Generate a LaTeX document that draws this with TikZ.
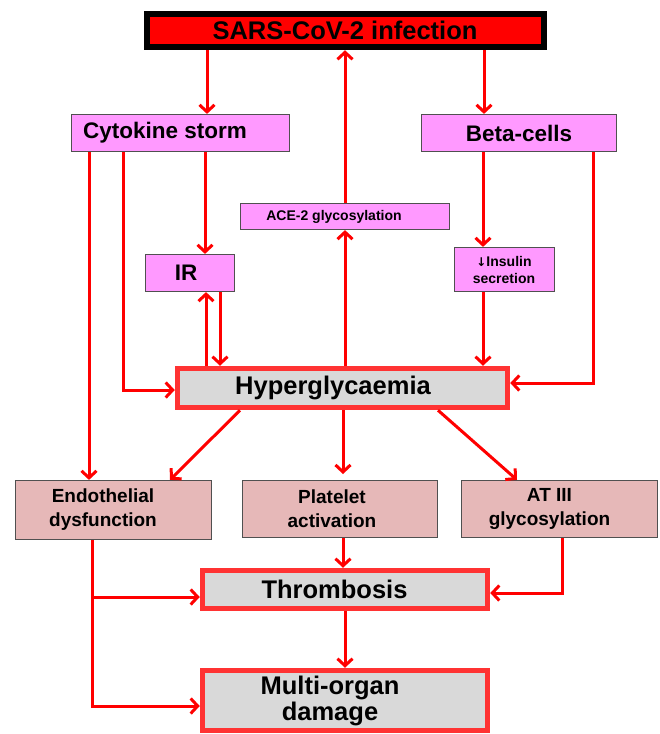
\documentclass[tikz,border=0pt]{standalone}
\usepackage{fontspec}
\setmainfont{Liberation Sans}
\newfontfamily\symf{DejaVu Sans}
\usetikzlibrary{arrows.meta}
\definecolor{pinkf}{RGB}{255,153,255}
\definecolor{rosef}{RGB}{230,184,184}
\definecolor{grayf}{RGB}{217,217,217}
\definecolor{hred}{RGB}{255,51,51}
\definecolor{bordc}{RGB}{80,80,80}
\begin{document}
\begin{tikzpicture}[x=1pt,y=-1pt,
  box/.style={draw=bordc, line width=1.2pt, inner sep=0pt},
  pbox/.style={box, fill=pinkf},
  rbox/.style={box, fill=rosef},
  hbox/.style={draw=hred, line width=5.5pt, fill=grayf, inner sep=0pt},
  txt/.style={inner sep=0pt, align=center},
  fbig/.style={font=\bfseries\fontsize{25.5}{26}\selectfont},
  fmid/.style={font=\bfseries\fontsize{22.5}{26}\selectfont},
  fbot/.style={font=\bfseries\fontsize{19}{24}\selectfont},
  fsmall/.style={font=\bfseries\fontsize{14}{17}\selectfont},
  arr/.style={draw=red, line width=3pt, -{Straight Barb[length=7pt,width=15pt]}},
  ln/.style={draw=red, line width=3pt}
]
\useasboundingbox (0,0) rectangle (660,734);

% boxes
\node[draw=black, line width=6.5pt, fill=red, inner sep=0pt, minimum width=397pt, minimum height=33pt] (sars) at (345.5,30.5) {};
\node[txt, fbig] (sarst) at (345,30) {SARS-CoV-2 infection};

\node[pbox, minimum width=218pt, minimum height=37pt] (cyto) at (180.5,133) {};
\node[txt, fmid, anchor=west] (cytot) at (83,133) {Cytokine storm};

\node[pbox, minimum width=195pt, minimum height=37pt] (beta) at (519,133) {};
\node[txt, fmid] (betat) at (519,133) {Beta-cells};

\node[pbox, minimum width=209pt, minimum height=26pt] (ace) at (345,216.5) {};
\node[txt, fsmall] (acet) at (334,216.5) {ACE-2 glycosylation};

\node[pbox, minimum width=89pt, minimum height=37pt] (ir) at (190,273) {};
\node[txt, fmid] (irt) at (186,273) {IR};

\node[pbox, minimum width=100pt, minimum height=44pt] (ins) at (504.5,269.5) {};
\node[txt, fsmall] (inst) at (504,270) {{\symf\fontsize{12}{12}\selectfont ↓}Insulin\\secretion};

\node[hbox, minimum width=330pt, minimum height=39pt] (hyp) at (342.5,388) {};
\node[txt, fbig] (hypt) at (333,388) {Hyperglycaemia};

\node[rbox, minimum width=196pt, minimum height=59pt] (endo) at (113.5,510) {};
\node[txt, fbot] (endot) at (103,510) {Endothelial\\dysfunction};

\node[rbox, minimum width=195pt, minimum height=57pt] (plat) at (340,509) {};
\node[txt, fbot] (platt) at (332,509) {Platelet\\activation};

\node[rbox, minimum width=196pt, minimum height=57pt] (at3) at (559.5,509) {};
\node[txt, fbot] (at3t) at (549.5,509) {AT III\\glycosylation};

\node[hbox, minimum width=285pt, minimum height=38pt] (thr) at (345,589.5) {};
\node[txt, fbig] (thrt) at (334.5,589.5) {Thrombosis};

\node[hbox, minimum width=285pt, minimum height=60pt] (multi) at (345,700.5) {};
\node[txt, fbig] (multit) at (330,701) {Multi-organ\\damage};

% guide coordinates
\coordinate (g207) at (207,0);
\coordinate (g484) at (484,0);
\coordinate (g345) at (345,0);
\coordinate (g205) at (205,0);
\coordinate (g123) at (123,0);
\coordinate (g89) at (89,0);
\coordinate (g483) at (483,0);
\coordinate (g593) at (593,0);
\coordinate (g206) at (206,0);
\coordinate (g220) at (220,0);
\coordinate (g343) at (343,0);
\coordinate (g562) at (562,0);
\coordinate (g92) at (92,0);
\coordinate (y390) at (0,390);
\coordinate (y383) at (0,383);
\coordinate (y593) at (0,593);
\coordinate (y597) at (0,597);
\coordinate (y706) at (0,706);
\coordinate (platgap) at (343,474);

% connectors
\draw[arr] (sars.south -| g207) -- (cyto.north -| g207);
\draw[arr] (sars.south -| g484) -- (beta.north -| g484);
\draw[arr] (ace.north -| g345) -- (sars.south -| g345);
\draw[arr] (cyto.south -| g205) -- (ir.north -| g205);
\draw[arr] (cyto.south -| g123) |- (hyp.west |- y390);
\draw[arr] (cyto.south -| g89) -- (endo.north -| g89);
\draw[arr] (beta.south -| g483) -- (ins.north -| g483);
\draw[arr] (beta.south -| g593) |- (hyp.east |- y383);
\draw[arr] (ins.south -| g483) -- (hyp.north -| g483);
\draw[arr] (hyp.north -| g206) -- (ir.south -| g206);
\draw[arr] (ir.south -| g220) -- (hyp.north -| g220);
\draw[arr] (hyp.north -| g345) -- (ace.south -| g345);
\draw[arr] (hyp.south -| 240,0) -- (endo.north -| 170,0);
\draw[arr] (hyp.south -| g343) -- (platgap);
\draw[arr] (hyp.south -| 438,0) -- (at3.north -| 517,0);
\draw[arr] (plat.south -| g343) -- (thr.north -| g343);
\draw[arr] (at3.south -| g562) |- (thr.east |- y593);
\draw[arr] (endo.south -| g92) |- (thr.west |- y597);
\draw[arr] (endo.south -| g92) |- (multi.west |- y706);
\draw[arr] (thr.south -| g345) -- (multi.north -| g345);
\end{tikzpicture}
\end{document}
